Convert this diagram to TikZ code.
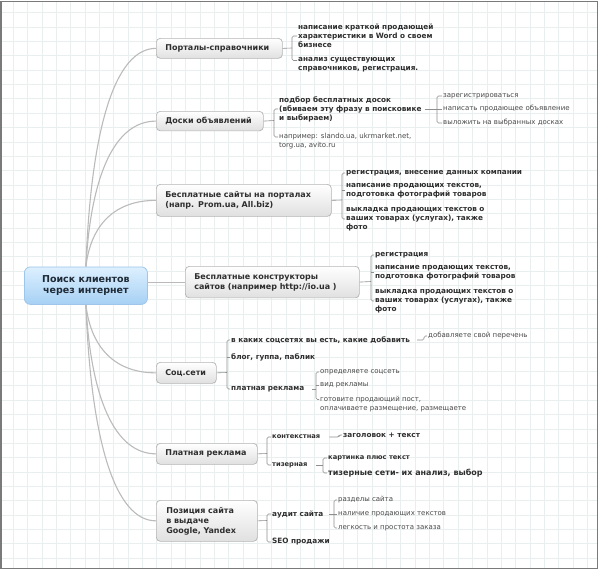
\documentclass[tikz,border=0pt]{standalone}
\usepackage{fontspec}
\setmainfont{DejaVu Sans}
\usetikzlibrary{calc}
\definecolor{gridc}{HTML}{E9EEEE}
\definecolor{framec}{HTML}{7A7A7A}
\definecolor{curvec}{HTML}{BBBBBB}
\definecolor{subc}{HTML}{8E8E8E}
\definecolor{txtc}{HTML}{2E2E2E}
\definecolor{txtl}{HTML}{4A4A4A}
\definecolor{boxb}{HTML}{B5B5B5}
\definecolor{boxbot}{HTML}{E0E0E0}
\definecolor{roottop}{HTML}{DDF0FF}
\definecolor{rootbot}{HTML}{A6D0F4}
\definecolor{rootb}{HTML}{9DC6EA}
\definecolor{roottxt}{HTML}{1E2A36}
\begin{document}
\begin{tikzpicture}[x=1pt,y=-1pt,
  gridl/.style={draw=gridc, line width=0.7pt},
  rootbox/.style={draw=rootb, line width=0.8pt, rounded corners=6pt, top color=roottop, bottom color=rootbot, inner sep=0pt, text=roottxt, font=\fontsize{9.5}{11.5}\selectfont\bfseries, align=center, anchor=north west},
  mainbox/.style={draw=boxb, line width=0.7pt, rounded corners=4pt, top color=white, bottom color=boxbot, inner xsep=9pt, inner ysep=0pt, text=txtc, font=\fontsize{8}{10}\selectfont\bfseries, align=left, anchor=north west},
  sb/.style={anchor=west, inner sep=0pt, align=left, text=txtc, font=\fontsize{7.3}{9}\selectfont\bfseries},
  sbs/.style={sb, font=\fontsize{6.7}{8.5}\selectfont\bfseries},
  sbl/.style={sb, font=\fontsize{8}{10}\selectfont\bfseries},
  sr/.style={anchor=west, inner sep=0pt, align=left, text=txtl, font=\fontsize{7}{9}\selectfont},
  curve/.style={draw=curvec, line width=1.1pt},
  link/.style={draw=subc, line width=0.6pt, rounded corners=1.5pt}
]
\useasboundingbox (0,0) rectangle (600,570);
\fill[white] (0,0) rectangle (600,570);
\foreach \i in {0,...,40} \draw[gridl] ({13.3+\i*14.35},1.5) -- ({13.3+\i*14.35},568);
\foreach \j in {0,...,38} \draw[gridl] (1.5,{12.7+\j*14.35}) -- (597,{12.7+\j*14.35});
\draw[framec, line width=1.2pt] (1,1.2) rectangle (597.5,568.3);

% root
\node[rootbox, minimum width=123pt, minimum height=37.5pt] (root) at (24,266.5) {Поиск клиентов\\через интернет};

% main branches
\node[mainbox, text width=108pt, minimum height=20pt] (p1) at (156,38) {Порталы-справочники};
\node[mainbox, text width=89pt, minimum height=19.5pt] (p2) at (156,111) {Доски объявлений};
\node[mainbox, text width=157pt, minimum height=32pt] (p3) at (156,184) {Бесплатные сайты на порталах\\(напр. Prom.ua, All.biz)};
\node[mainbox, text width=156pt, minimum height=31.5pt] (p4) at (185,266) {Бесплатные конструкторы\\сайтов (например http://io.ua )};
\node[mainbox, text width=42pt, minimum height=21pt] (p5) at (156,362) {Соц.сети};
\node[mainbox, text width=83pt, minimum height=21pt] (p6) at (156,443) {Платная реклама};
\node[mainbox, text width=81pt, minimum height=41pt, inner xsep=10pt] (p7) at (156,500) {Позиция сайта\\в выдаче\\Google, Yandex};

% root connectors
\draw[curve] (root.north) .. controls +(5,-138) and +(-41,0) .. (p1.west);
\draw[curve] (root.north) .. controls +(5,-92) and +(-41,0) .. (p2.west);
\draw[curve] (root.north) .. controls +(5,-42) and +(-41,0) .. (p3.west);
\draw[curve] (root.east |- p4.west) -- (p4.west);
\draw[curve] (root.south) .. controls +(5,43) and +(-41,0) .. (p5.west);
\draw[curve] (root.south) .. controls +(5,94) and +(-41,0) .. (p6.west);
\draw[curve] (root.south) .. controls +(5,136) and +(-41,0) .. (p7.west);

% group 1
\node[sb] (c11) at (298,36) {написание краткой продающей\\характеристики в Word о своем\\бизнесе};
\node[sb] (c12) at (298,65) {анализ существующих\\справочников, регистрация.};
\coordinate (b1) at (292,48);
\draw[link] (p1.east) -- (b1);
\draw[link] ([xshift=-1pt]c11.west) -| (b1) |- ([xshift=-1pt,yshift=4.5pt]c12.west);

% group 2
\node[sb] (d1) at (279,109) {подбор бесплатных досок\\(вбиваем эту фразу в поисковике\\и выбираем)};
\node[sr] (d2) at (279,141.5) {например: slando.ua, ukrmarket.net,\\torg.ua, avito.ru};
\coordinate (b2) at (274,120.5);
\draw[link] (p2.east) -- (b2);
\draw[link] ([xshift=-1pt]d1.west) -| (b2) |- ([xshift=-1pt,yshift=4.5pt]d2.west);
\node[sr] (e1) at (443,96) {зарегистрироваться};
\node[sr] (e2) at (443,109) {написать продающее объявление};
\node[sr] (e3) at (443,123) {выложить на выбранных досках};
\coordinate (bd) at (437,109);
\draw[link] ([xshift=3pt]d1.east) -- (bd);
\draw[link] ([xshift=-1pt]e1.west) -| (bd) |- ([xshift=-1pt]e3.west);
\draw[link] (bd) -- ([xshift=-1pt]e2.west);

% group 3
\node[sb] (f1) at (346,173) {регистрация, внесение данных компании};
\node[sb] (f2) at (346,190.5) {написание продающих текстов,\\подготовка фотографий товаров};
\node[sb] (f3) at (346,219) {выкладка продающих текстов о\\ваших товарах (услугах), также\\фото};
\coordinate (b3) at (342,200);
\draw[link] (p3.east) -- (b3);
\draw[link] ([xshift=-1pt]f1.west) -| (b3) |- ([xshift=-1pt]f3.west);
\draw[link] (b3 |- f2.west) -- ([xshift=-1pt]f2.west);

% group 4
\node[sb] (g1) at (375,255) {регистрация};
\node[sb] (g2) at (375,272.5) {написание продающих текстов,\\подготовка фотографий товаров};
\node[sb] (g3) at (375,301) {выкладка продающих текстов о\\ваших товарах (услугах), также\\фото};
\coordinate (b4) at (371,281.5);
\draw[link] (p4.east) -- (b4);
\draw[link] ([xshift=-1pt]g1.west) -| (b4) |- ([xshift=-1pt]g3.west);
\draw[link] (b4 |- g2.west) -- ([xshift=-1pt]g2.west);

% group 5
\node[sb] (h1) at (231,340) {в каких соцсетях вы есть, какие добавить};
\node[sb] (h2) at (231,357) {блог, гуппа, паблик};
\node[sb] (h3) at (231,389) {платная реклама};
\node[sr] (h1a) at (428,336) {добавляете свой перечень};
\coordinate (b5) at (227,372.5);
\draw[link] (p5.east) -- (b5);
\draw[link] ([xshift=-1pt]h1.west) -| (b5) |- ([xshift=-1pt]h3.west);
\draw[link] (b5 |- h2.west) -- ([xshift=-1pt]h2.west);
\draw[link] ([xshift=7pt]h1.east) -| ([xshift=-4pt]h1a.west) -- ([xshift=-1pt]h1a.west);
\node[sr] (i1) at (320,372) {определяете соцсеть};
\node[sr] (i2) at (320,385) {вид рекламы};
\node[sr] (i3) at (320,404) {готовите продающий пост,\\оплачиваете размещение, размещаете};
\coordinate (bi) at (316,389);
\draw[link] ([xshift=8pt]h3.east) -- (bi);
\draw[link] ([xshift=-1pt]i1.west) -| (bi) |- ([xshift=-1pt,yshift=4.5pt]i3.west);
\draw[link] (bi |- i2.west) -- ([xshift=-1pt]i2.west);

% group 6
\node[sbs] (j1) at (272,437) {контекстная};
\node[sbs] (j2) at (272,465) {тизерная};
\node[sb] (j1a) at (343,435) {заголовок + текст};
\coordinate (b6) at (267,453.5);
\draw[link] (p6.east) -- (b6);
\draw[link] ([xshift=-1pt]j1.west) -| (b6) |- ([xshift=-1pt]j2.west);
\draw[link] ([xshift=9pt]j1.east) -| ([xshift=-4pt]j1a.west) -- ([xshift=-1pt]j1a.west);
\node[sbs] (k1) at (328,458) {картинка плюс текст};
\node[sbl] (k2) at (328,473) {тизерные сети- их анализ, выбор};
\coordinate (bk) at (323,465);
\draw[link] ([xshift=8pt]j2.east) -- (bk);
\draw[link] ([xshift=-1pt]k1.west) -| (bk) |- ([xshift=-1pt]k2.west);

% group 7
\node[sb] (l1) at (272,514) {аудит сайта};
\node[sb] (l2) at (272,542) {SEO продажи};
\coordinate (b7) at (267,520.5);
\draw[link] (p7.east) -- (b7);
\draw[link] ([xshift=-1pt]l1.west) -| (b7) |- ([xshift=-1pt]l2.west);
\node[sr] (m1) at (338,500) {разделы сайта};
\node[sr] (m2) at (338,514) {наличие продающих текстов};
\node[sr] (m3) at (338,528) {легкость и простота заказа};
\coordinate (bm) at (334,514);
\draw[link] ([xshift=6pt]l1.east) -- (bm);
\draw[link] ([xshift=-1pt]m1.west) -| (bm) |- ([xshift=-1pt]m3.west);
\draw[link] (bm) -- ([xshift=-1pt]m2.west);
\end{tikzpicture}
\end{document}
